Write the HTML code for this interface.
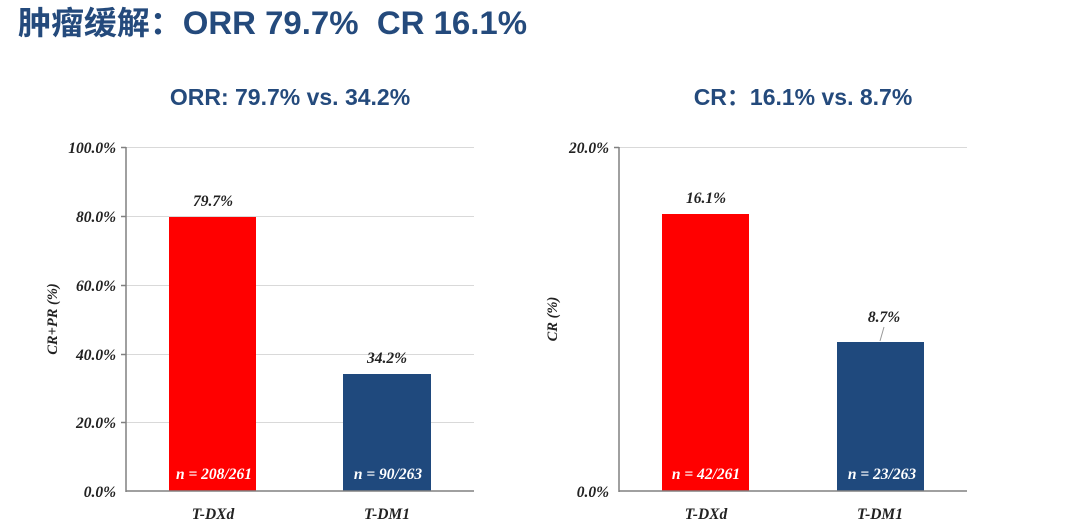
<!DOCTYPE html>
<html><head><meta charset="utf-8"><style>
html,body{margin:0;padding:0;background:#fff;}
svg{display:block;}
text{white-space:pre;}
.s{font-family:"Liberation Serif",serif;font-style:italic;font-weight:bold;}
.h{font-family:"Liberation Sans","Noto Sans CJK SC",sans-serif;font-weight:bold;fill:#244a7c;}
</style></head><body>
<svg width="1080" height="524" xmlns="http://www.w3.org/2000/svg">
<text class="h" x="18" y="34" font-size="32" textLength="509" lengthAdjust="spacingAndGlyphs">肿瘤缓解：ORR 79.7%  CR 16.1%</text>
<text class="h" x="290" y="105" font-size="23" text-anchor="middle">ORR: 79.7% vs. 34.2%</text>
<text class="h" x="803" y="105" font-size="23" text-anchor="middle">CR：16.1% vs. 8.7%</text>

<!-- left chart -->
<g stroke="#d9d9d9" stroke-width="1">
<line x1="126" y1="147.5" x2="474" y2="147.5"/>
<line x1="126" y1="216.5" x2="474" y2="216.5"/>
<line x1="126" y1="285.5" x2="474" y2="285.5"/>
<line x1="126" y1="354.5" x2="474" y2="354.5"/>
<line x1="126" y1="422.5" x2="474" y2="422.5"/>
</g>
<rect x="169" y="217" width="87" height="274" fill="#ff0000"/>
<rect x="343" y="374" width="88" height="117" fill="#1f497d"/>
<g stroke="#808080" stroke-width="1.5">
<line x1="126" y1="147" x2="126" y2="492"/>
<line x1="126" y1="491" x2="474" y2="491"/>
<line x1="121" y1="147.5" x2="126" y2="147.5"/><line x1="121" y1="216.5" x2="126" y2="216.5"/>
<line x1="121" y1="285.5" x2="126" y2="285.5"/><line x1="121" y1="354.5" x2="126" y2="354.5"/>
<line x1="121" y1="422.5" x2="126" y2="422.5"/>
</g>
<g class="s" font-size="15.5" fill="#222" text-anchor="end">
<text x="116" y="153">100.0%</text><text x="116" y="222">80.0%</text>
<text x="116" y="291">60.0%</text><text x="116" y="360">40.0%</text>
<text x="116" y="428">20.0%</text><text x="116" y="497">0.0%</text>
</g>
<text class="s" font-size="14.5" fill="#222" text-anchor="middle" transform="translate(57,319) rotate(-90)">CR+PR (%)</text>
<g class="s" font-size="15.5" fill="#222" text-anchor="middle">
<text x="213" y="206">79.7%</text><text x="387" y="363">34.2%</text>
<text x="213" y="519">T-DXd</text><text x="387" y="519">T-DM1</text>
</g>
<g class="s" font-size="15.5" fill="#fff" text-anchor="middle">
<text x="214" y="479">n = 208/261</text><text x="388" y="479">n = 90/263</text>
</g>

<!-- right chart -->
<line x1="619" y1="147.5" x2="967" y2="147.5" stroke="#d9d9d9"/>
<rect x="662" y="214" width="87" height="277" fill="#ff0000"/>
<rect x="837" y="342" width="87" height="149" fill="#1f497d"/>
<line x1="880" y1="341" x2="884" y2="327" stroke="#999"/>
<g stroke="#808080" stroke-width="1.5">
<line x1="619" y1="147" x2="619" y2="492"/>
<line x1="619" y1="491" x2="967" y2="491"/>
<line x1="614" y1="147.5" x2="619" y2="147.5"/>
</g>
<g class="s" font-size="15.5" fill="#222" text-anchor="end">
<text x="609" y="153">20.0%</text><text x="609" y="497">0.0%</text>
</g>
<text class="s" font-size="14.5" fill="#222" text-anchor="middle" transform="translate(557,319) rotate(-90)">CR (%)</text>
<g class="s" font-size="15.5" fill="#222" text-anchor="middle">
<text x="706" y="203">16.1%</text><text x="884" y="322">8.7%</text>
<text x="706" y="519">T-DXd</text><text x="880" y="519">T-DM1</text>
</g>
<g class="s" font-size="15.5" fill="#fff" text-anchor="middle">
<text x="706" y="479">n = 42/261</text><text x="882" y="479">n = 23/263</text>
</g>
</svg>
</body></html>
